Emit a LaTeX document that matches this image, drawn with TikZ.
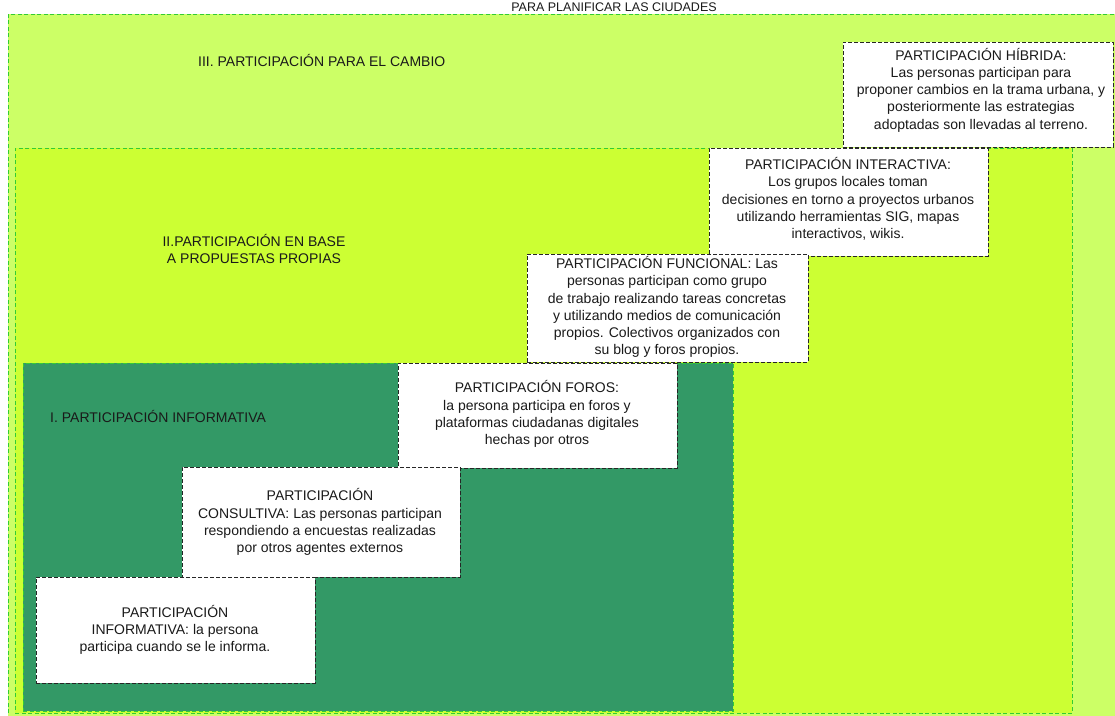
\documentclass[tikz,border=0pt]{standalone}
\usepackage{fontspec}
\setmainfont{Liberation Sans}
\definecolor{lightg}{HTML}{CCFF66}
\definecolor{limeg}{HTML}{CCFF33}
\definecolor{darkg}{HTML}{339966}
\definecolor{bordg}{HTML}{33CC33}
\definecolor{txt}{HTML}{1A1A1A}
\tikzset{
  region/.style={draw=bordg, dash pattern=on 4pt off 2.5pt, line width=0.8pt, anchor=north west, inner sep=0pt},
  card/.style={draw=black!85, fill=white, dash pattern=on 4pt off 2pt, line width=1pt, inner sep=0pt},
  cardtext/.style={align=center, text=txt, inner sep=0pt},
  lbl/.style={text=txt, inner sep=0pt, align=center}
}
\begin{document}
\begin{tikzpicture}[x=1pt,y=-1pt,font=\fontsize{14}{17.2}\selectfont]
\useasboundingbox (0,0) rectangle (1115,715);
\clip (0,0) rectangle (1115,715);
\fill[white] (0,0) rectangle (1115,715);
% regions
\node[region, fill=lightg, minimum width=1140pt, minimum height=730pt] (r3) at (8,14) {};
\node[region, fill=limeg, minimum width=1057pt, minimum height=565pt] (r2) at (15,148) {};
\node[region, fill=darkg, minimum width=710pt, minimum height=348pt] (r1) at (23,363) {};
% title and region labels
\node[lbl, anchor=base, font=\fontsize{12.5}{15}\selectfont] (title) at (614,11) {PARA PLANIFICAR LAS CIUDADES};
\node[lbl, anchor=west] (l3) at (198,60) {III. PARTICIPACIÓN PARA EL CAMBIO};
\node[lbl] (l2) at (254,249) {II.PARTICIPACIÓN EN BASE\\A PROPUESTAS PROPIAS};
\node[lbl, anchor=west] (l1) at (50,416) {I. PARTICIPACIÓN INFORMATIVA};
% cards
\node[card, minimum width=270pt, minimum height=105pt] (hyb) at (978,94.5) {};
\node[card, minimum width=279pt, minimum height=108pt] (int) at (848.5,202) {};
\node[card, minimum width=281pt, minimum height=108pt] (fun) at (667.5,308) {};
\node[card, minimum width=279pt, minimum height=105pt] (for) at (537.5,415.5) {};
\node[card, minimum width=278pt, minimum height=110pt] (con) at (321,522) {};
\node[card, minimum width=279pt, minimum height=106pt] (inf) at (175.5,630) {};
% card texts
\node[cardtext] (hybt) at (981,90) {PARTICIPACIÓN HÍBRIDA:\\Las personas participan para\\proponer cambios en la trama urbana, y\\posteriormente las estrategias\\adoptadas son llevadas al terreno.};
\node[cardtext] (intt) at (848,199) {PARTICIPACIÓN INTERACTIVA:\\Los grupos locales toman\\decisiones en torno a proyectos urbanos\\utilizando herramientas SIG, mapas\\interactivos, wikis.};
\node[cardtext] (funt) at (667,307) {PARTICIPACIÓN FUNCIONAL: Las\\personas participan como grupo\\de trabajo realizando tareas concretas\\y utilizando medios de comunicación\\propios. Colectivos organizados con\\su blog y foros propios.};
\node[cardtext] (fort) at (537,414) {PARTICIPACIÓN FOROS:\\la persona participa en foros y\\plataformas ciudadanas digitales\\hechas por otros};
\node[cardtext] (cont) at (320,522) {PARTICIPACIÓN\\CONSULTIVA: Las personas participan\\respondiendo a encuestas realizadas\\por otros agentes externos};
\node[cardtext] (inft) at (175,630) {PARTICIPACIÓN\\INFORMATIVA: la persona\\participa cuando se le informa.};
\end{tikzpicture}
\end{document}
